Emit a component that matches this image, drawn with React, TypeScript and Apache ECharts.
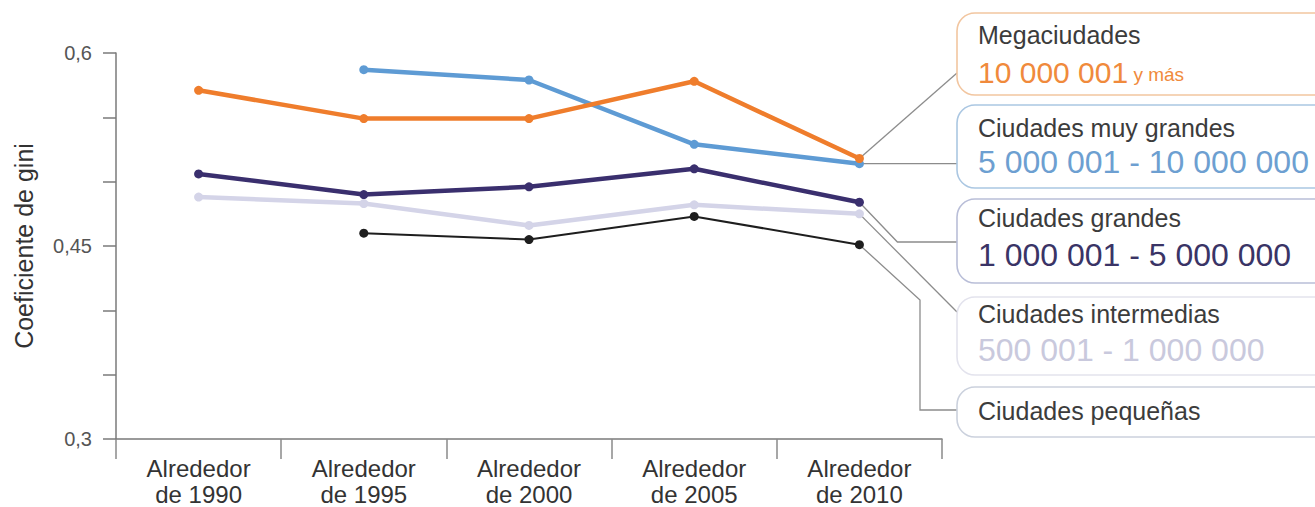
import React, { useEffect, useRef } from "react";
import * as echarts from "echarts";

const categories = [
  "Alrededor\nde 1990",
  "Alrededor\nde 1995",
  "Alrededor\nde 2000",
  "Alrededor\nde 2005",
  "Alrededor\nde 2010",
];
const megaciudades = [0.571, 0.549, 0.549, 0.578, 0.518];
const muyGrandes = [null, 0.587, 0.579, 0.529, 0.514];
const grandes = [0.506, 0.49, 0.496, 0.51, 0.484];
const intermedias = [0.488, 0.483, 0.466, 0.482, 0.475];
const pequenas = [null, 0.46, 0.455, 0.473, 0.451];

const yTickValues = [30, 45, 60];
const yTickLabels = ["0,3", "0,45", "0,6"];

const seriesNames = [
  "Megaciudades",
  "Ciudades muy grandes",
  "Ciudades grandes",
  "Ciudades intermedias",
  "Ciudades pequeñas",
];
const legendRanges = ["10 000 001", "5 000 001 - 10 000 000", "1 000 001 - 5 000 000", "500 001 - 1 000 000", ""];
const legendSuffix = ["y más", "", "", "", ""];

const seriesColors = ["#ef7d2c", "#5e9bd4", "#3a2f6e", "#d4d4e8", "#1e1e1e"];
const rangeColors = ["#f08a3c", "#6d9fd1", "#3a3466", "#c9c9dd", "#333"];
const boxColors = ["#f2c6a0", "#abc7e2", "#b9bed8", "#e3e3ed", "#cbd1dd"];
const lineWidths = [4.5, 4.5, 4.5, 4.5, 2];

const FONT = "'Liberation Sans', Arial, sans-serif";

export default function App() {
  const ref = useRef<HTMLDivElement>(null);

  useEffect(() => {
    if (!ref.current) return;
    const chart = echarts.init(ref.current, null, { renderer: "svg" });
    const allData = [megaciudades, muyGrandes, grandes, intermedias, pequenas];

    chart.setOption({
      animation: false,
      backgroundColor: "#ffffff",
      grid: { left: 116, right: 373, top: 53, bottom: 68, containLabel: false },
      xAxis: {
        type: "category",
        data: categories,
        boundaryGap: true,
        axisLine: { lineStyle: { color: "#7a7a7a", width: 1.5 } },
        axisTick: { show: true, length: 20, lineStyle: { color: "#8a8a8a", width: 1.5 } },
        axisLabel: {
          color: "#333",
          fontSize: 24,
          fontFamily: FONT,
          lineHeight: 26,
          margin: 16,
          interval: 0,
        },
        splitLine: { show: false },
      },
      yAxis: {
        type: "value",
        min: 0.3,
        max: 0.6,
        interval: 0.05,
        name: "Coeficiente de gini",
        nameLocation: "middle",
        nameGap: 80,
        nameTextStyle: { color: "#333", fontSize: 25, fontFamily: FONT },
        axisLine: { show: true, lineStyle: { color: "#7a7a7a", width: 1.5 } },
        axisTick: { show: true, length: 13, lineStyle: { color: "#7a7a7a", width: 1.5 } },
        axisLabel: {
          color: "#555",
          fontSize: 20,
          fontFamily: FONT,
          margin: 24,
          showMinLabel: true,
          showMaxLabel: true,
          formatter: (v: number) => {
            const k = Math.round(v * 100);
            const i = yTickValues.indexOf(k);
            return i >= 0 ? yTickLabels[i] : "";
          },
        },
        splitLine: { show: false },
      },
      series: allData.map((d, i) => ({
        name: seriesNames[i],
        type: "line",
        data: d,
        symbol: "circle",
        symbolSize: 9,
        connectNulls: false,
        lineStyle: { color: seriesColors[i], width: lineWidths[i] },
        itemStyle: { color: seriesColors[i] },
        z: 10 - i,
      })),
    });

    const last = categories.length - 1;
    const pt = (arr: (number | null)[]) =>
      chart.convertToPixel({ gridIndex: 0 }, [last, arr[last] as number]) as number[];
    const pO = pt(megaciudades);
    const pB = pt(muyGrandes);
    const pP = pt(grandes);
    const pL = pt(intermedias);
    const pK = pt(pequenas);

    const boxX = 957;
    const boxes = [
      { y: 13, h: 82 },
      { y: 105, h: 83 },
      { y: 199, h: 84 },
      { y: 297, h: 78 },
      { y: 387, h: 50 },
    ];
    const titleY = [35, 128, 218, 314, 411];
    const rangeY = [72, 162, 255, 350, 0];

    const connStyle = { stroke: "#8c8c8c", lineWidth: 1.3, fill: null };
    const connectors = [
      [pO, [boxX, 73]],
      [pB, [boxX, pB[1]]],
      [pP, [pP[0] + 38, 242], [boxX, 242]],
      [pL, [boxX, 312]],
      [pK, [920, 300], [920, 410], [boxX, 410]],
    ].map((pts) => ({
      type: "polyline",
      shape: { points: pts },
      style: connStyle,
      z: 1,
      silent: true,
    }));

    const graphics: any[] = [...connectors];
    boxes.forEach((b, i) => {
      graphics.push({
        type: "rect",
        shape: { x: boxX, y: b.y, width: 420, height: b.h, r: 18 },
        style: { fill: "#ffffff", stroke: boxColors[i], lineWidth: 1.6 },
        z: 2,
        silent: true,
      });
      graphics.push({
        type: "text",
        x: 978,
        y: titleY[i],
        style: {
          text: seriesNames[i],
          fill: "#3c3c3c",
          fontSize: 25,
          fontFamily: FONT,
          verticalAlign: "middle",
          align: "left",
        },
        z: 3,
        silent: true,
      });
      if (legendRanges[i]) {
        const hasSuffix = !!legendSuffix[i];
        graphics.push({
          type: "text",
          x: 978,
          y: rangeY[i],
          style: {
            text: hasSuffix ? `{a|${legendRanges[i]}}{b| ${legendSuffix[i]}}` : `{a|${legendRanges[i]}}`,
            verticalAlign: "middle",
            align: "left",
            rich: {
              a: { fontSize: i === 0 ? 30 : 32, fontFamily: FONT, fill: rangeColors[i], color: rangeColors[i] },
              b: { fontSize: 19, fontFamily: FONT, fill: rangeColors[i], color: rangeColors[i], verticalAlign: "bottom", padding: [0, 0, 3, 0] },
            },
          },
          z: 3,
          silent: true,
        });
      }
    });

    chart.setOption({ graphic: graphics });

    return () => chart.dispose();
  }, []);

  return (
    <div
      ref={ref}
      style={{ position: "fixed", left: 0, top: 0, width: 1315, height: 507, background: "#fff" }}
    />
  );
}
